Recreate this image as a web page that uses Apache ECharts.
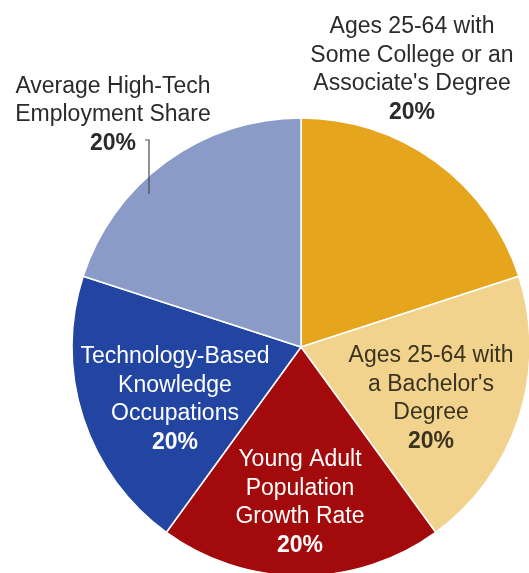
<!DOCTYPE html>
<html>
<head>
<meta charset="utf-8">
<script src="https://cdn.jsdelivr.net/npm/echarts@6/dist/echarts.min.js"></script>
<style>
html,body{margin:0;padding:0;background:#fff;}
#chart{width:529px;height:573px;}
</style>
</head>
<body>
<div id="chart"></div>
<script>
// Data
var categories = [
  "Ages 25-64 with\nSome College or an\nAssociate's Degree",
  "Ages 25-64 with\na Bachelor's\nDegree",
  "Young Adult\nPopulation\nGrowth Rate",
  "Technology-Based\nKnowledge\nOccupations",
  "Average High-Tech\nEmployment Share"
];
var values = [20, 20, 20, 20, 20];
var percentLabels = ["20%", "20%", "20%", "20%", "20%"];

// Styles / layout
var colors = ["#E5A51C", "#F2D38D", "#A20A0B", "#2145A0", "#8A9BC8"];
var textColors = ["#2b2b2b", "#3a3320", "#ffffff", "#ffffff", "#2b2b2b"];
var labelAnchors = [[412, 70], [431, 399], [300, 503], [175, 400], [113, 115]];
var FONT = 23;

var chart = echarts.init(document.getElementById('chart'));
var data = categories.map(function (c, i) {
  return {
    name: c,
    value: values[i],
    itemStyle: { color: colors[i] },
    label: {
      color: textColors[i],
      rich: {
        n: { color: textColors[i], fontSize: FONT, lineHeight: 28.5, fontFamily: 'Liberation Sans' },
        p: { color: textColors[i], fontSize: FONT, lineHeight: 29, fontWeight: 'bold', fontFamily: 'Liberation Sans' }
      }
    },
    labelLine: { show: false }
  };
});

chart.setOption({
  animation: false,
  graphic: [{
    type: 'polyline',
    z: 100,
    shape: { points: [[149, 194], [149, 140], [145, 140]] },
    style: { stroke: '#4a4a4a', lineWidth: 1.2, fill: null }
  }],
  series: [{
    type: 'pie',
    center: [301, 347],
    radius: 229,
    startAngle: 90,
    clockwise: true,
    avoidLabelOverlap: false,
    itemStyle: { borderColor: '#ffffff', borderWidth: 1.5 },
    label: {
      show: true,
      position: 'outside',
      align: 'center',
      formatter: function (p) {
        var lines = p.name.split('\n').map(function (l) { return '{n|' + l + '}'; });
        return lines.join('\n') + '\n{p|' + percentLabels[p.dataIndex] + '}';
      }
    },
    labelLine: { show: false },
    labelLayout: function (params) {
      var a = labelAnchors[params.dataIndex];
      return { x: a[0], y: a[1], align: 'center', verticalAlign: 'middle' };
    },
    emphasis: { disabled: true },
    data: data
  }]
});
</script>
</body>
</html>
